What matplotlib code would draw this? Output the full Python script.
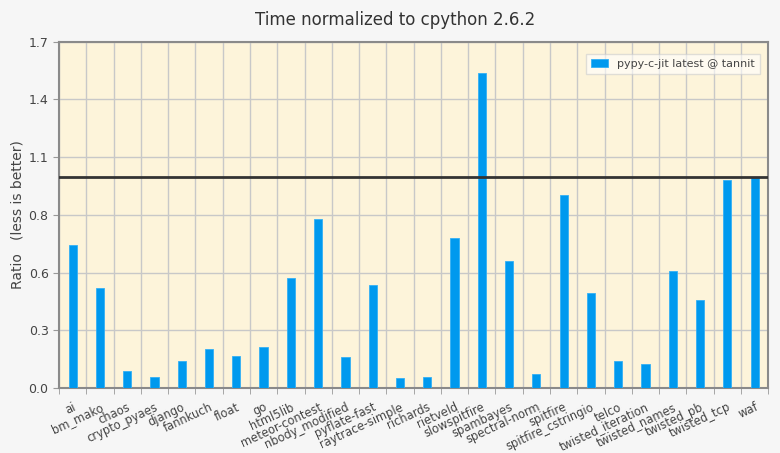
import matplotlib
matplotlib.use("Agg")
import matplotlib.pyplot as plt
import numpy as np
from matplotlib.ticker import FixedLocator, FormatStrFormatter

benchmarks = ["ai", "bm_mako", "chaos", "crypto_pyaes", "django", "fannkuch",
              "float", "go", "html5lib", "meteor-contest", "nbody_modified",
              "pyflate-fast", "raytrace-simple", "richards", "rietveld",
              "slowspitfire", "spambayes", "spectral-norm", "spitfire",
              "spitfire_cstringio", "telco", "twisted_iteration",
              "twisted_names", "twisted_pb", "twisted_tcp", "waf"]
ratios = [0.702, 0.491, 0.082, 0.054, 0.134, 0.190,
          0.156, 0.200, 0.540, 0.828, 0.154,
          0.507, 0.048, 0.052, 0.735,
          1.548, 0.625, 0.067, 0.947,
          0.466, 0.131, 0.119,
          0.574, 0.434, 1.021, 1.037]
baseline = 1.035
series_name = "pypy-c-jit latest @ tannit"

fig = plt.figure(figsize=(7.8, 4.53), dpi=100)
fig.patch.set_facecolor("#f6f6f6")
ax = fig.add_axes([0.0756, 0.1435, 0.9094, 0.7645])
ax.set_facecolor("#fdf4da")

x = np.arange(len(benchmarks))
ax.bar(x, ratios, width=0.3, color="#0099ee", edgecolor="#33b0f5",
       linewidth=0.6, label=series_name, zorder=3)
ax.axhline(baseline, color="#333333", linewidth=2, zorder=4)

ax.set_xlim(-0.5, len(benchmarks) - 0.5)
ax.set_ylim(0, 1.7)

# y ticks: six even steps, shown with one decimal
ax.yaxis.set_major_locator(FixedLocator(np.linspace(0, 1.7, 7)))
ax.yaxis.set_major_formatter(FormatStrFormatter("%.1f"))

# x: labels at bar centres, grid + tick marks on the cell borders
ax.set_xticks(x)
ax.set_xticklabels(benchmarks, rotation=25, ha="right", rotation_mode="anchor",
                   fontsize=8.3, color="#444444")
ax.xaxis.set_minor_locator(FixedLocator(np.arange(-0.5, len(benchmarks), 1.0)))
ax.tick_params(axis="x", which="major", length=0, pad=9)
ax.tick_params(axis="x", which="minor", length=4, color="#999999")
ax.tick_params(axis="y", length=4, color="#999999", labelsize=9,
               labelcolor="#444444")

ax.grid(True, axis="y", which="major", color="#c8c8c8", linewidth=1, zorder=0)
ax.grid(True, axis="x", which="minor", color="#c8c8c8", linewidth=1, zorder=0)
ax.set_axisbelow(True)

for s in ax.spines.values():
    s.set_color("#8a8a8a")
    s.set_linewidth(1.5)

fig.text(395 / 780, 1 - 20 / 453, "Time normalized to cpython 2.6.2",
         fontsize=12, color="#333333", ha="center", va="center")
ax.set_ylabel("Ratio   (less is better)", fontsize=10, color="#444444",
              labelpad=3)

leg = ax.legend(loc="upper right", fontsize=8, fancybox=False,
                framealpha=0.6, edgecolor="#cccccc", handlelength=1.5,
                handleheight=0.7, borderpad=0.45, borderaxespad=0,
                bbox_to_anchor=(0.988, 0.965))
for t in leg.get_texts():
    t.set_color("#444444")

fig.savefig("out.png", dpi=100, facecolor=fig.get_facecolor())
